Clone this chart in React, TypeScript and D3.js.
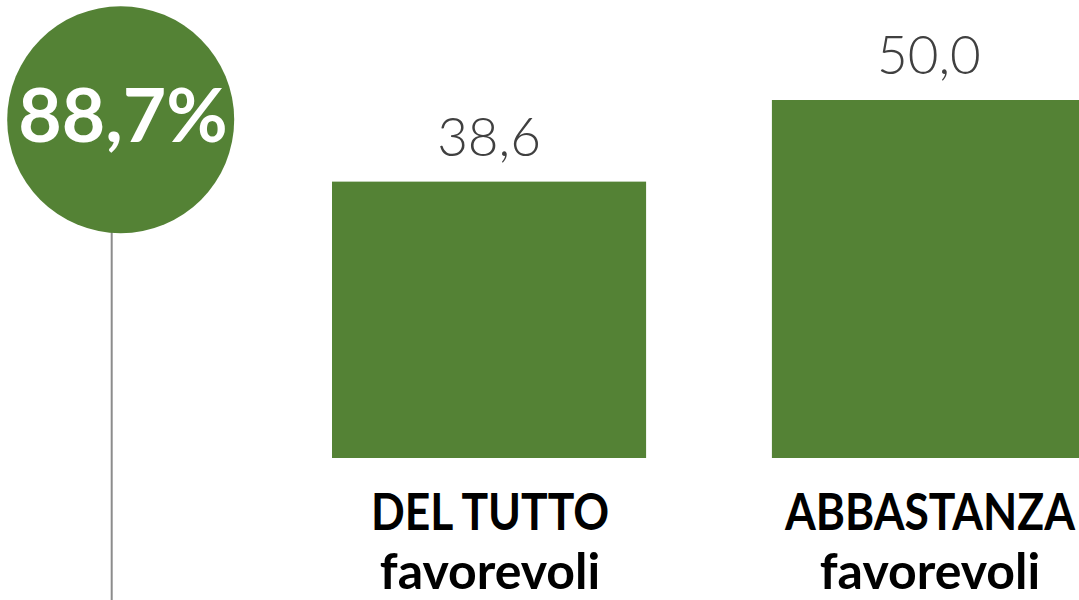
import React from "react";
import * as d3 from "d3";

// ---- data ----
const categoryTop: string[] = ["DEL TUTTO", "ABBASTANZA"];
const categoryBottom: string[] = ["favorevoli", "favorevoli"];
const values: number[] = [38.6, 50.0];
const totalValue: number = 88.7;

const W = 1079;
const H = 600;
const GREEN = "#548235";
const CAPS_SQUEEZE = 0.87;

const fmt = (v: number) => v.toFixed(1).replace(".", ",");

export default function App() {
  const x = d3
    .scaleBand<number>()
    .domain(values.map((_, i) => i))
    .range([332, 1086])
    .paddingInner(0.286)
    .paddingOuter(0);
  const y = d3.scaleLinear().domain([0, 50]).range([458, 100]);

  const cx = 120.7;
  const cy = 119.7;
  const r = 113.5;

  return (
    <svg
      width={W}
      height={H}
      viewBox={`0 0 ${W} ${H}`}
      style={{ position: "fixed", left: 0, top: 0, background: "#fff" }}
    >
      <rect x={0} y={0} width={W} height={H} fill="#fff" />
      {/* stem line */}
      <line x1={111.7} x2={111.7} y1={cy + r - 2} y2={H} stroke="#8c8c8c" strokeWidth={2} />
      {/* circle */}
      <circle cx={cx} cy={cy} r={r} fill={GREEN} />
      <text
        x={123}
        y={142}
        textAnchor="middle"
        fill="#fff"
        fontFamily="Lato, 'Open Sans', sans-serif"
        fontWeight={700}
        fontSize={75}
      >
        {fmt(totalValue) + "%"}
      </text>

      {values.map((v, i) => {
        const bx = x(i)!;
        const bw = x.bandwidth();
        const mid = bx + bw / 2;
        const lx = mid + 1;
        return (
          <g key={i}>
            <rect x={bx} y={y(v)} width={bw} height={y(0) - y(v)} fill={GREEN} />
            <text
              x={mid}
              y={y(v) - 26}
              textAnchor="middle"
              fill="#404040"
              fontFamily="Lato, 'Open Sans', sans-serif"
              fontWeight={300}
              fontSize={53}
            >
              {fmt(v)}
            </text>
            <g transform={`translate(${lx},530) scale(${CAPS_SQUEEZE},1)`}>
              <text
                x={0}
                y={0}
                textAnchor="middle"
                fill="#000"
                fontFamily="Lato, 'Open Sans', sans-serif"
                fontWeight={700}
                fontSize={51}
              >
                {categoryTop[i]}
              </text>
            </g>
            <text
              x={lx}
              y={589}
              textAnchor="middle"
              fill="#000"
              fontFamily="Lato, 'Open Sans', sans-serif"
              fontWeight={700}
              fontSize={50}
            >
              {categoryBottom[i]}
            </text>
          </g>
        );
      })}
    </svg>
  );
}
